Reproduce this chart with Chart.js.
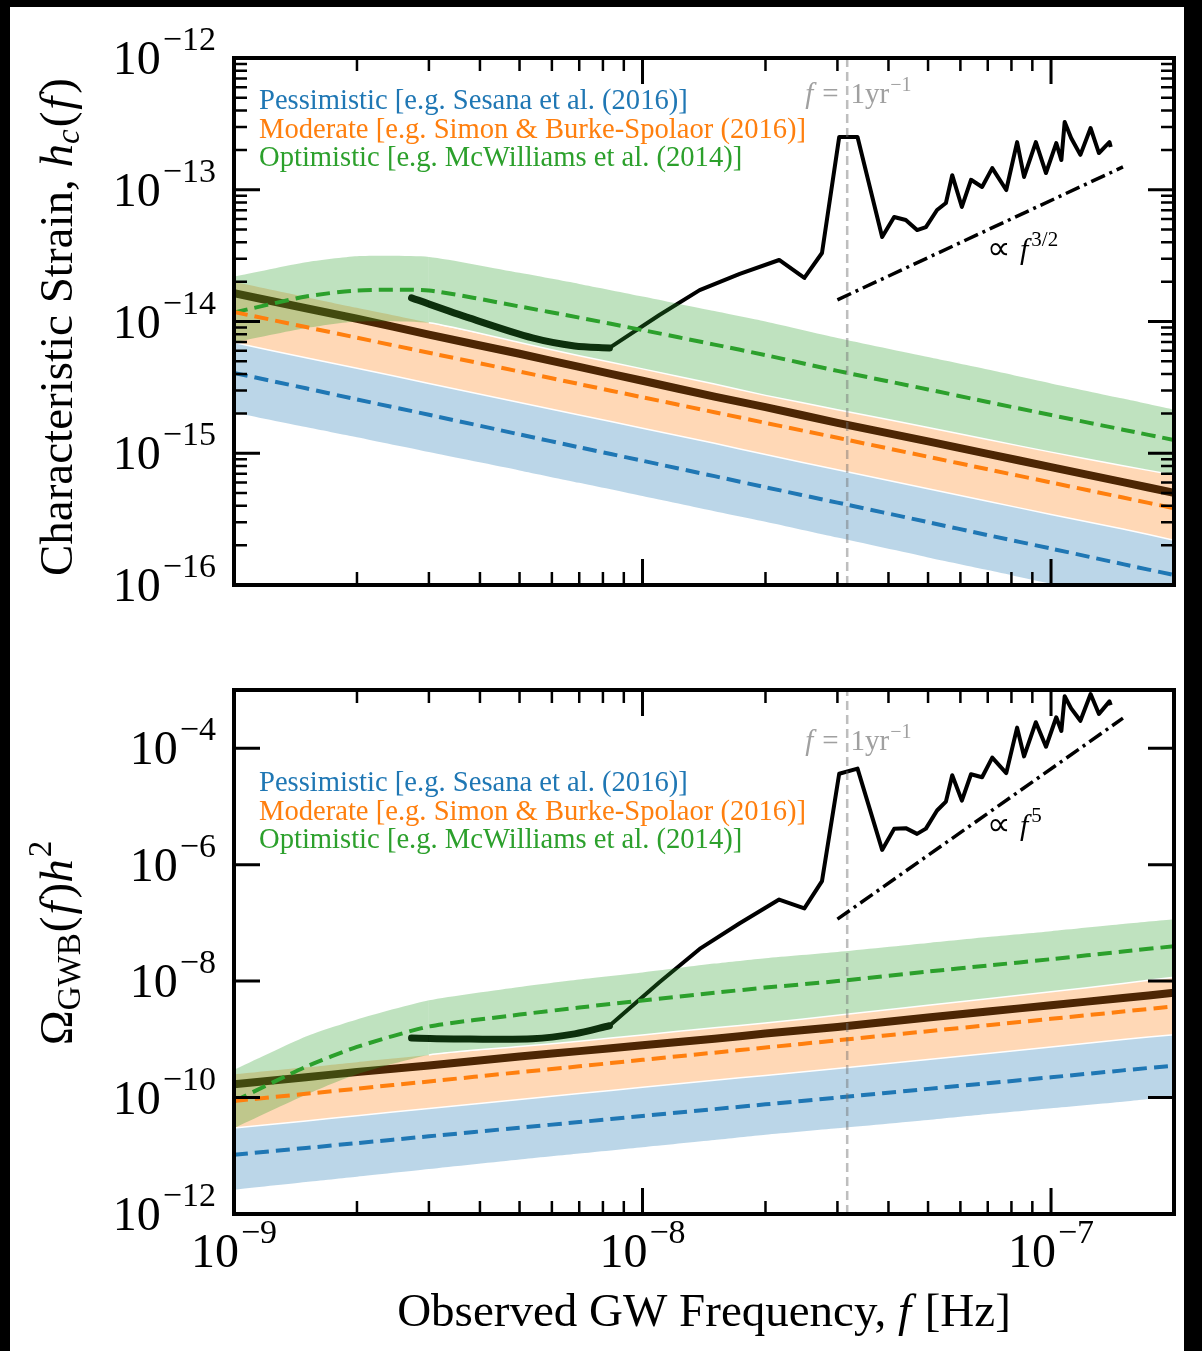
<!DOCTYPE html>
<html>
<head>
<meta charset="utf-8">
<script src="https://cdn.jsdelivr.net/npm/chart.js@4.4.1/dist/chart.umd.min.js"></script>
<style>
  html, body { margin: 0; padding: 0; background: #000; }
  body { width: 1202px; height: 1351px; position: relative; overflow: hidden; }
  #paper { position: absolute; left: 10px; top: 7px; width: 1174px; height: 1344px; background: #fff; }
  canvas { position: absolute; left: 0; }
  #top { top: 0; }
  #bottom { top: 640px; }
</style>
</head>
<body>
<div id="paper"></div>
<canvas id="top" width="1202" height="640"></canvas>
<canvas id="bottom" width="1202" height="711"></canvas>
<script>
// axis limits and ticks
const X_RANGE = [1e-9, 2e-7];
const HC_RANGE = [1e-16, 1e-12];
const OM_RANGE = [1e-12, 1e-3];
const X_MAJOR = [1e-9, 1e-8, 1e-7];
const HC_MAJOR = [1e-16, 1e-15, 1e-14, 1e-13, 1e-12];
const OM_MAJOR = [1e-12, 1e-10, 1e-8, 1e-6, 1e-4];
const F_YR = 3.17e-8;

const LABELS = [
  'Pessimistic [e.g. Sesana et al. (2016)]',
  'Moderate [e.g. Simon & Burke-Spolaor (2016)]',
  'Optimistic [e.g. McWilliams et al. (2014)]',
];
const COLORS = ['#1f77b4', '#ff7f0e', '#2ca02c'];
const BANDS = ['rgba(31,119,180,0.3)', 'rgba(255,127,14,0.3)', 'rgba(44,160,44,0.3)'];

// frequency grid of the model bands
const FREQ = [1e-9, 1.5e-9, 2e-9, 3e-9, 5e-9, 7e-9, 1e-8, 1.5e-8, 2e-8, 3e-8, 5e-8, 7e-8, 1e-7, 1.5e-7, 2e-7];

// characteristic strain (top)
const HC_PESS_HI = [6.92e-15, 5.31e-15, 4.42e-15, 3.39e-15, 2.43e-15, 1.95e-15, 1.55e-15, 1.19e-15, 9.77e-16, 7.50e-16, 5.37e-16, 4.32e-16, 3.43e-16, 2.66e-16, 2.19e-16];
const HC_PESS_MED = [4.07e-15, 3.11e-15, 2.56e-15, 1.96e-15, 1.39e-15, 1.11e-15, 8.77e-16, 6.70e-16, 5.52e-16, 4.22e-16, 3.00e-16, 2.39e-16, 1.89e-16, 1.44e-16, 1.19e-16];
const HC_PESS_LO = [2.04e-15, 1.58e-15, 1.32e-15, 1.02e-15, 7.41e-16, 5.96e-16, 4.73e-16, 3.63e-16, 3.02e-16, 2.29e-16, 1.62e-16, 1.30e-16, 1.02e-16, 7.76e-17, 6.46e-17];
const HC_MOD_HI = [2.00e-14, 1.53e-14, 1.27e-14, 9.77e-15, 6.92e-15, 5.50e-15, 4.37e-15, 3.35e-15, 2.75e-15, 2.14e-15, 1.57e-15, 1.27e-15, 1.02e-15, 8.04e-16, 6.84e-16];
const HC_MOD_MED = [1.18e-14, 9.08e-15, 7.53e-15, 5.79e-15, 4.17e-15, 3.35e-15, 2.66e-15, 2.05e-15, 1.70e-15, 1.31e-15, 9.40e-16, 7.55e-16, 6.00e-16, 4.61e-16, 3.83e-16];
const HC_MOD_LO = [6.92e-15, 5.31e-15, 4.42e-15, 3.39e-15, 2.43e-15, 1.95e-15, 1.55e-15, 1.19e-15, 9.77e-16, 7.50e-16, 5.37e-16, 4.32e-16, 3.43e-16, 2.66e-16, 2.19e-16];
const HC_OPT_HI = [2.19e-14, 2.82e-14, 3.13e-14, 3.09e-14, 2.34e-14, 1.93e-14, 1.55e-14, 1.20e-14, 1.00e-14, 7.50e-15, 5.37e-15, 4.32e-15, 3.39e-15, 2.60e-15, 2.14e-15];
const HC_OPT_MED = [1.17e-14, 1.55e-14, 1.72e-14, 1.72e-14, 1.30e-14, 1.07e-14, 8.61e-15, 6.68e-15, 5.56e-15, 4.22e-15, 3.05e-15, 2.45e-15, 1.95e-15, 1.51e-15, 1.26e-15];
const HC_OPT_LO = [6.92e-15, 8.91e-15, 1.00e-14, 9.77e-15, 6.92e-15, 5.50e-15, 4.37e-15, 3.35e-15, 2.75e-15, 2.14e-15, 1.57e-15, 1.27e-15, 1.02e-15, 8.04e-16, 6.84e-16];
const HC_MEDIAN = [1.64e-14, 1.26e-14, 1.05e-14, 7.94e-15, 5.69e-15, 4.52e-15, 3.55e-15, 2.69e-15, 2.24e-15, 1.70e-15, 1.23e-15, 9.89e-16, 7.85e-16, 6.03e-16, 5.01e-16];

// energy density (bottom)
const OM_PESS_HI = [3.00e-11, 3.97e-11, 4.89e-11, 6.47e-11, 9.23e-11, 1.17e-10, 1.50e-10, 1.99e-10, 2.39e-10, 3.17e-10, 4.52e-10, 5.71e-10, 7.36e-10, 9.98e-10, 1.20e-9];
const OM_PESS_MED = [1.04e-11, 1.36e-11, 1.65e-11, 2.16e-11, 3.04e-11, 3.79e-11, 4.82e-11, 6.32e-11, 7.64e-11, 1.00e-10, 1.41e-10, 1.76e-10, 2.23e-10, 2.93e-10, 3.54e-10];
const OM_PESS_LO = [2.61e-12, 3.54e-12, 4.36e-12, 5.90e-12, 8.61e-12, 1.09e-11, 1.40e-11, 1.86e-11, 2.29e-11, 2.96e-11, 4.12e-11, 5.21e-11, 6.56e-11, 8.49e-11, 1.04e-10];
const OM_MOD_HI = [2.49e-10, 3.30e-10, 4.06e-10, 5.38e-10, 7.50e-10, 9.27e-10, 1.19e-9, 1.58e-9, 1.90e-9, 2.58e-9, 3.85e-9, 4.98e-9, 6.56e-9, 9.10e-9, 1.17e-8];
const OM_MOD_MED = [8.73e-11, 1.16e-10, 1.42e-10, 1.89e-10, 2.72e-10, 3.44e-10, 4.44e-10, 5.90e-10, 7.23e-10, 9.62e-10, 1.38e-9, 1.75e-9, 2.25e-9, 3.00e-9, 3.67e-9];
const OM_MOD_LO = [3.00e-11, 3.97e-11, 4.89e-11, 6.47e-11, 9.23e-11, 1.17e-10, 1.50e-10, 1.99e-10, 2.39e-10, 3.17e-10, 4.52e-10, 5.71e-10, 7.36e-10, 9.98e-10, 1.20e-9];
const OM_OPT_HI = [3.00e-10, 1.12e-9, 2.19e-9, 4.68e-9, 7.94e-9, 1.07e-8, 1.41e-8, 2.00e-8, 2.48e-8, 3.17e-8, 4.52e-8, 5.71e-8, 7.19e-8, 9.53e-8, 1.15e-7];
const OM_OPT_MED = [8.65e-11, 3.38e-10, 7.40e-10, 1.66e-9, 2.66e-9, 3.52e-9, 4.65e-9, 6.30e-9, 7.74e-9, 1.00e-8, 1.46e-8, 1.85e-8, 2.38e-8, 3.23e-8, 3.97e-8];
const OM_OPT_LO = [3.00e-11, 1.12e-10, 2.51e-10, 5.38e-10, 7.50e-10, 9.27e-10, 1.19e-9, 1.58e-9, 1.90e-9, 2.58e-9, 3.85e-9, 4.98e-9, 6.56e-9, 9.10e-9, 1.17e-8];
const OM_MEDIAN = [1.69e-10, 2.23e-10, 2.75e-10, 3.56e-10, 5.07e-10, 6.27e-10, 7.89e-10, 1.02e-9, 1.26e-9, 1.63e-9, 2.37e-9, 3.00e-9, 3.86e-9, 5.12e-9, 6.30e-9];

// PTA sensitivity curve
const PTA_THICK_F = [2.72e-9, 3.78e-9, 5.38e-9, 6.82e-9, 8.30e-9];
const PTA_THICK_HC = [1.51e-14, 1.06e-14, 7.50e-15, 6.52e-15, 6.30e-15];
const PTA_THICK_OM = [1.05e-9, 1.01e-9, 1.02e-9, 1.24e-9, 1.71e-9];
const PTA_F = [8.30e-9, 1.10e-8, 1.38e-8, 1.73e-8, 2.16e-8, 2.49e-8, 2.75e-8, 3.03e-8, 3.36e-8, 3.86e-8,
  4.13e-8, 4.41e-8, 4.70e-8, 4.94e-8, 5.26e-8, 5.53e-8, 5.73e-8, 6.05e-8, 6.37e-8, 6.78e-8,
  7.18e-8, 7.77e-8, 8.26e-8, 8.59e-8, 9.18e-8, 9.72e-8, 1.03e-7, 1.06e-7, 1.08e-7, 1.12e-7,
  1.18e-7, 1.25e-7, 1.31e-7, 1.39e-7, 1.40e-7];
const PTA_HC = [6.30e-15, 1.12e-14, 1.73e-14, 2.30e-14, 2.93e-14, 2.14e-14, 3.31e-14, 2.51e-13, 2.51e-13, 4.38e-14,
  6.21e-14, 5.89e-14, 4.94e-14, 5.21e-14, 7.02e-14, 7.93e-14, 1.29e-13, 7.40e-14, 1.19e-13, 1.05e-13,
  1.46e-13, 9.95e-14, 2.30e-13, 1.25e-13, 2.30e-13, 1.34e-13, 2.26e-13, 1.68e-13, 3.27e-13, 2.47e-13,
  1.84e-13, 2.94e-13, 1.90e-13, 2.30e-13, 2.11e-13];
const PTA_OM = [1.71e-9, 9.53e-9, 3.57e-8, 9.84e-8, 2.52e-7, 1.77e-7, 5.21e-7, 3.64e-5, 4.46e-5, 1.79e-6,
  4.12e-6, 4.24e-6, 3.38e-6, 4.16e-6, 8.53e-6, 1.21e-5, 3.44e-5, 1.26e-5, 3.57e-5, 3.17e-5,
  6.90e-5, 3.74e-5, 2.26e-4, 7.23e-5, 2.80e-4, 1.06e-4, 3.40e-4, 1.98e-4, 7.82e-4, 4.84e-4,
  2.96e-4, 8.53e-4, 3.88e-4, 6.38e-4, 5.48e-4];

// power-law guide lines
const SLOPE_F = [3.0e-8, 1.5e-7];
const SLOPE_HC = [1.46e-14, 1.49e-13];
const SLOPE_OM = [1.16e-7, 3.28e-4];

const SERIF = '"Liberation Serif", "Times New Roman", serif';
const F = (s, it) => (it ? 'italic ' : '') + s + 'px ' + SERIF;

const pts = (xs, ys) => xs.map((x, i) => ({ x, y: ys[i] }));

function runs(ctx, x, y, parts, align) {
  let total = 0;
  const ws = parts.map(p => {
    ctx.font = p[1];
    const w = ctx.measureText(p[0]).width + (p[3] || 0);
    total += w;
    return w;
  });
  let cx = align === 'center' ? x - total / 2 : align === 'right' ? x - total : x;
  parts.forEach((p, i) => {
    ctx.font = p[1];
    ctx.fillText(p[0], cx + (p[3] || 0), y + (p[2] || 0));
    cx += ws[i];
  });
}

function minorTicks(lo, hi) {
  const out = [];
  for (let k = Math.floor(Math.log10(lo)); k <= Math.ceil(Math.log10(hi)); k++) {
    for (let m = 2; m <= 9; m++) {
      const v = m * Math.pow(10, k);
      if (v > lo * 1.0001 && v < hi * 0.9999) out.push(v);
    }
  }
  return out;
}

const expText = v => '\u2212' + Math.round(-Math.log10(v));

const frame = {
  id: 'frame',
  afterDraw(chart, args, o) {
    const { ctx, chartArea: a } = chart;
    const xs = chart.scales.x, ys = chart.scales.y;
    ctx.save();
    ctx.strokeStyle = '#000';
    ctx.lineCap = 'butt';
    const seg = (x1, y1, x2, y2) => { ctx.moveTo(x1, y1); ctx.lineTo(x2, y2); };
    [[X_MAJOR, 26, 3], [minorTicks(X_RANGE[0], X_RANGE[1]), 13, 2.5]].forEach(([vals, len, w]) => {
      ctx.lineWidth = w;
      ctx.beginPath();
      vals.forEach(v => {
        const p = xs.getPixelForValue(v);
        seg(p, a.bottom, p, a.bottom - len);
        seg(p, a.top, p, a.top + len);
      });
      ctx.stroke();
    });
    const yl = [[o.yMajor, 26, 3]];
    if (o.yMinor) yl.push([minorTicks(o.yRange[0], o.yRange[1]), 13, 2.5]);
    yl.forEach(([vals, len, w]) => {
      ctx.lineWidth = w;
      ctx.beginPath();
      vals.forEach(v => {
        const p = ys.getPixelForValue(v);
        seg(a.left, p, a.left + len, p);
        seg(a.right, p, a.right - len, p);
      });
      ctx.stroke();
    });
    ctx.lineWidth = 4;
    ctx.strokeRect(a.left, a.top, a.right - a.left, a.bottom - a.top);

    ctx.fillStyle = '#000';
    ctx.textBaseline = 'alphabetic';
    o.yMajor.forEach(v => {
      const p = ys.getPixelForValue(v);
      runs(ctx, a.left - 18, p + 16, [['10', F(48)], [expText(v), F(34), -24, 2]], 'right');
    });
    if (o.xLabels) {
      X_MAJOR.forEach(v => {
        const p = xs.getPixelForValue(v);
        runs(ctx, p, a.bottom + 53, [['10', F(48)], [expText(v), F(34), -24, 2]], 'center');
      });
      runs(ctx, (a.left + a.right) / 2, a.bottom + 112,
        [['Observed GW Frequency, ', F(47)], ['f', F(47, true)], [' [Hz]', F(47), 0, 2]], 'center');
    }

    // y title
    ctx.save();
    ctx.translate(72, o.titleY);
    ctx.rotate(-Math.PI / 2);
    runs(ctx, 0, 0, o.title, 'center');
    ctx.restore();

    // model labels
    LABELS.forEach((t, i) => {
      ctx.fillStyle = COLORS[i];
      ctx.font = F(28.6);
      ctx.fillText(t, a.left + 25, o.legendY + i * 28.5);
    });

    // 1/yr marker and slope note
    ctx.fillStyle = '#a0a0a0';
    runs(ctx, xs.getPixelForValue(F_YR) - 42, o.yrY,
      [['f', F(29, true)], ['=', F(29), 0, 9], ['1yr', F(29), 0, 12], ['\u22121', F(20), -12, 1]], 'left');
    ctx.fillStyle = '#000';
    runs(ctx, 987, o.slopeY, [['\u221d', F(33)], ['f', F(30, true), 0, 9], [o.slopeExp, F(21), -13, 3]], 'left');
    ctx.restore();
  }
};

function datasets(p) {
  const none = 'rgba(0,0,0,0)';
  const base = (data, extra) => Object.assign({
    data, borderColor: '#000', borderWidth: 3.5, pointRadius: 0, fill: false, clip: 0, tension: 0,
  }, extra);
  const edge = { borderColor: none, borderWidth: 0, tension: 0.2 };
  return [
    base(pts(FREQ, p.median), { borderWidth: 8, order: 10, tension: 0.2 }),
    base(pts(PTA_THICK_F, p.ptaThick), { borderWidth: 7, order: 9, tension: 0.3, borderCapStyle: 'round' }),
    base(pts(PTA_F, p.pta), { borderWidth: 4, order: 8, borderJoinStyle: 'round' }),
    base(pts(FREQ, p.pessHi), Object.assign({ fill: '+1', backgroundColor: BANDS[0], order: 7.5 }, edge)),
    base(pts(FREQ, p.pessLo), Object.assign({ order: 7.4 }, edge)),
    base(pts(FREQ, p.modHi), Object.assign({ fill: '+1', backgroundColor: BANDS[1], order: 6.5 }, edge)),
    base(pts(FREQ, p.modLo), { borderColor: '#fff', borderWidth: 1.5, order: 6.4, tension: 0.2 }),
    base(pts(FREQ, p.optHi), Object.assign({ fill: '+1', backgroundColor: BANDS[2], order: 5.5 }, edge)),
    base(pts(FREQ, p.optLo), {
      borderColor: '#fff', borderWidth: 1.5, order: 5.4, tension: 0.2,
      segment: { borderColor: c => (c.p0DataIndex >= 3 ? '#fff' : none) },
    }),
    base(pts(FREQ, p.pessMed), { borderColor: COLORS[0], borderWidth: 4, borderDash: [14, 7], order: 4, tension: 0.2 }),
    base(pts(FREQ, p.modMed), { borderColor: COLORS[1], borderWidth: 4, borderDash: [14, 7], order: 4, tension: 0.2 }),
    base(pts(FREQ, p.optMed), { borderColor: COLORS[2], borderWidth: 4, borderDash: [14, 7], order: 4, tension: 0.2 }),
    base(pts([F_YR, F_YR], p.range), { borderColor: 'rgba(110,110,110,0.45)', borderWidth: 2.5, borderDash: [9, 5], order: 3 }),
    base(pts(SLOPE_F, p.slope), { borderWidth: 3.5, borderDash: [15, 5, 3, 5], order: 2 }),
  ];
}

function makeChart(id, p, pad, frameOpts) {
  return new Chart(document.getElementById(id), {
    type: 'line',
    data: { datasets: datasets(p) },
    options: {
      responsive: false,
      animation: false,
      devicePixelRatio: 1,
      events: [],
      layout: { padding: pad },
      plugins: { legend: { display: false }, tooltip: { enabled: false }, frame: frameOpts },
      scales: {
        x: { type: 'logarithmic', min: X_RANGE[0], max: X_RANGE[1], display: false },
        y: { type: 'logarithmic', min: p.range[0], max: p.range[1], display: false },
      },
    },
    plugins: [frame],
  });
}

makeChart('top', {
  median: HC_MEDIAN, ptaThick: PTA_THICK_HC, pta: PTA_HC,
  pessHi: HC_PESS_HI, pessLo: HC_PESS_LO, pessMed: HC_PESS_MED,
  modHi: HC_MOD_HI, modLo: HC_MOD_LO, modMed: HC_MOD_MED,
  optHi: HC_OPT_HI, optLo: HC_OPT_LO, optMed: HC_OPT_MED,
  range: HC_RANGE, slope: SLOPE_HC,
}, { left: 234, right: 28, top: 58, bottom: 55 }, {
  yMajor: HC_MAJOR, yMinor: true, yRange: HC_RANGE, xLabels: false,
  titleY: 327, legendY: 109, yrY: 103, slopeY: 259, slopeExp: '3/2',
  title: [['Characteristic Strain, ', F(47)], ['h', F(47, true)], ['c', F(33, true), 7],
    ['(', F(47), 0, 2], ['f', F(47, true), 0, 2], [')', F(47), 0, 3]],
});

makeChart('bottom', {
  median: OM_MEDIAN, ptaThick: PTA_THICK_OM, pta: PTA_OM,
  pessHi: OM_PESS_HI, pessLo: OM_PESS_LO, pessMed: OM_PESS_MED,
  modHi: OM_MOD_HI, modLo: OM_MOD_LO, modMed: OM_MOD_MED,
  optHi: OM_OPT_HI, optLo: OM_OPT_LO, optMed: OM_OPT_MED,
  range: OM_RANGE, slope: SLOPE_OM,
}, { left: 234, right: 28, top: 50, bottom: 137 }, {
  yMajor: OM_MAJOR, yMinor: false, yRange: OM_RANGE, xLabels: true,
  titleY: 303, legendY: 151, yrY: 110, slopeY: 195, slopeExp: '5',
  title: [['\u03a9', F(47)], ['GWB', F(33), 8], ['(', F(47), 0, 1], ['f', F(47, true), 0, 2],
    [')', F(47), 0, 3], ['h', F(47, true)], ['2', F(33), -21, 2]],
});
</script>
</body>
</html>
